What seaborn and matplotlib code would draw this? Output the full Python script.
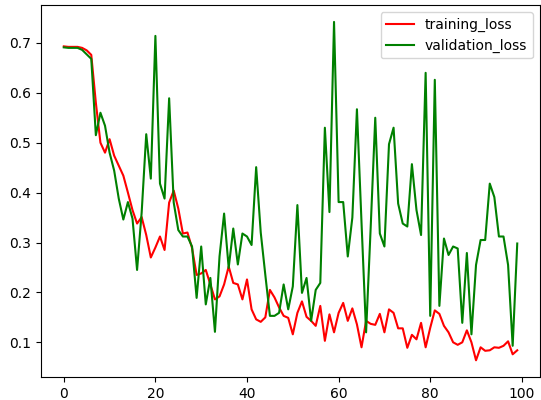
import numpy as np
import seaborn as sns
import matplotlib
matplotlib.use("Agg")
import matplotlib.pyplot as plt

# loss values per epoch

training_loss = [
    0.693, 0.692, 0.692, 0.692, 0.690, 0.685, 0.676, 0.580, 0.500, 0.480,
    0.507, 0.474, 0.454, 0.434, 0.400, 0.365, 0.338, 0.351, 0.315, 0.270,
    0.290, 0.312, 0.285, 0.380, 0.404, 0.368, 0.318, 0.320, 0.289, 0.235,
    0.238, 0.245, 0.216, 0.186, 0.192, 0.216, 0.252, 0.219, 0.216, 0.186,
    0.226, 0.166, 0.146, 0.141, 0.150, 0.205, 0.190, 0.170, 0.153, 0.149,
    0.116, 0.159, 0.182, 0.151, 0.143, 0.133, 0.173, 0.103, 0.156, 0.120,
    0.159, 0.179, 0.143, 0.168, 0.136, 0.090, 0.143, 0.137, 0.135, 0.157,
    0.120, 0.166, 0.159, 0.128, 0.128, 0.089, 0.115, 0.106, 0.139, 0.090,
    0.129, 0.164, 0.157, 0.133, 0.120, 0.100, 0.095, 0.100, 0.124, 0.100,
    0.064, 0.090, 0.083, 0.084, 0.090, 0.089, 0.093, 0.102, 0.076, 0.084,
]

validation_loss = [
    0.691, 0.690, 0.690, 0.690, 0.686, 0.677, 0.668, 0.515, 0.560, 0.534,
    0.480, 0.444, 0.388, 0.346, 0.381, 0.348, 0.245, 0.360, 0.517, 0.428,
    0.714, 0.418, 0.388, 0.589, 0.380, 0.325, 0.312, 0.312, 0.292, 0.189,
    0.292, 0.176, 0.229, 0.121, 0.272, 0.358, 0.249, 0.328, 0.256, 0.318,
    0.312, 0.295, 0.451, 0.320, 0.235, 0.153, 0.153, 0.159, 0.216, 0.166,
    0.212, 0.375, 0.199, 0.229, 0.143, 0.205, 0.219, 0.530, 0.361, 0.742,
    0.381, 0.381, 0.272, 0.350, 0.567, 0.340, 0.120, 0.330, 0.550, 0.318,
    0.292, 0.497, 0.530, 0.378, 0.338, 0.332, 0.457, 0.365, 0.315, 0.640,
    0.153, 0.626, 0.173, 0.308, 0.275, 0.292, 0.288, 0.139, 0.279, 0.116,
    0.255, 0.305, 0.305, 0.418, 0.391, 0.312, 0.312, 0.255, 0.093, 0.298,
]

epochs = np.arange(len(training_loss))

# PLOT

fig, ax = plt.subplots(figsize=(5.41, 4.0), dpi=100)
fig.subplots_adjust(left=0.076, right=0.998, top=0.9875, bottom=0.057)

sns.lineplot(x=epochs, y=training_loss, color="red", label="training_loss", ax=ax)
sns.lineplot(x=epochs, y=validation_loss, color="green", label="validation_loss", ax=ax)

ax.legend(loc="upper right")

plt.savefig("out.png", dpi=100)
plt.close()
